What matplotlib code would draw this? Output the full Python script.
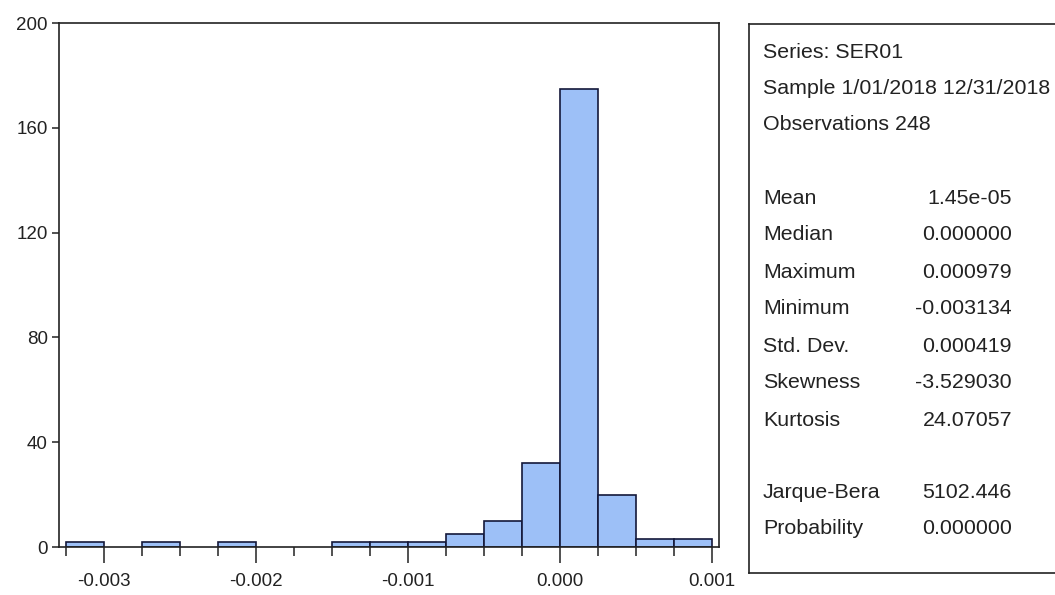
import numpy as np
import matplotlib
matplotlib.use('Agg')
import matplotlib.pyplot as plt
from matplotlib.ticker import MultipleLocator, FormatStrFormatter

plt.rcParams['font.family'] = ['Liberation Sans', 'DejaVu Sans']

# Histogram bins (left edge of each bin, width 0.00025) and counts
bin_left = [-0.00325, -0.00300, -0.00275, -0.00250, -0.00225, -0.00200, -0.00175,
            -0.00150, -0.00125, -0.00100, -0.00075, -0.00050, -0.00025,
            0.00000, 0.00025, 0.00050, 0.00075]
counts = [2, 0, 2, 0, 2, 0, 0, 2, 2, 2, 5, 10, 32, 175, 20, 3, 3]
bin_width = 0.00025

# Statistics panel
stat_header = ['Series: SER01', 'Sample 1/01/2018 12/31/2018', 'Observations 248']
stat_names = ['Mean', 'Median', 'Maximum', 'Minimum', 'Std. Dev.', 'Skewness', 'Kurtosis']
stat_values = ['1.45e-05', '0.000000', '0.000979', '-0.003134', '0.000419', '-3.529030', '24.07057']
test_names = ['Jarque-Bera', 'Probability']
test_values = ['5102.446', '0.000000']

W, H = 1055, 595
fig = plt.figure(figsize=(W / 100, H / 100), dpi=100)
fig.patch.set_facecolor('white')

# main histogram axes
ax = fig.add_axes([59 / W, (H - 547) / H, 660 / W, 524 / H])
xs = [x for x, c in zip(bin_left, counts) if c > 0]
hs = [c for c in counts if c > 0]
ax.bar(xs, hs, width=bin_width, align='edge', color='#9dc0f7',
       edgecolor='#14183a', linewidth=1.2, zorder=2)

ax.set_xlim(-0.003296, 0.001046)
ax.set_ylim(0, 200)
ax.xaxis.set_major_locator(MultipleLocator(0.001))
ax.xaxis.set_minor_locator(MultipleLocator(bin_width))
ax.xaxis.set_major_formatter(FormatStrFormatter('%.3f'))
ax.set_yticks(np.arange(0, 201, 40))
ax.tick_params(axis='x', which='major', length=11.5, width=1.1, pad=7,
               labelsize=13.5, colors='#222222')
ax.tick_params(axis='x', which='minor', length=6.5, width=1.1, colors='#222222')
ax.tick_params(axis='y', which='major', length=5, width=1.1, pad=3,
               labelsize=13.5, colors='#222222')
for s in ax.spines.values():
    s.set_linewidth(1.2)
    s.set_color('#222222')

# statistics box
bx = fig.add_axes([749 / W, (H - 573) / H, 320 / W, 549 / H])
bx.set_xticks([])
bx.set_yticks([])
for s in bx.spines.values():
    s.set_linewidth(1.2)
    s.set_color('#222222')
bx.set_xlim(749, 1069)
bx.set_ylim(573, 24)

fs = 15.4
tx = 763
vx = 1012
y = 52
for t in stat_header:
    bx.text(tx, y, t, fontsize=fs, va='center', ha='left', color='#222222')
    y += 36
y = 198
for n, v in zip(stat_names, stat_values):
    bx.text(tx, y, n, fontsize=fs, va='center', ha='left', color='#222222')
    bx.text(vx, y, v, fontsize=fs, va='center', ha='right', color='#222222')
    y += 37
y = 492
for n, v in zip(test_names, test_values):
    bx.text(tx, y, n, fontsize=fs, va='center', ha='left', color='#222222')
    bx.text(vx, y, v, fontsize=fs, va='center', ha='right', color='#222222')
    y += 37

fig.savefig('out.png', dpi=100)
